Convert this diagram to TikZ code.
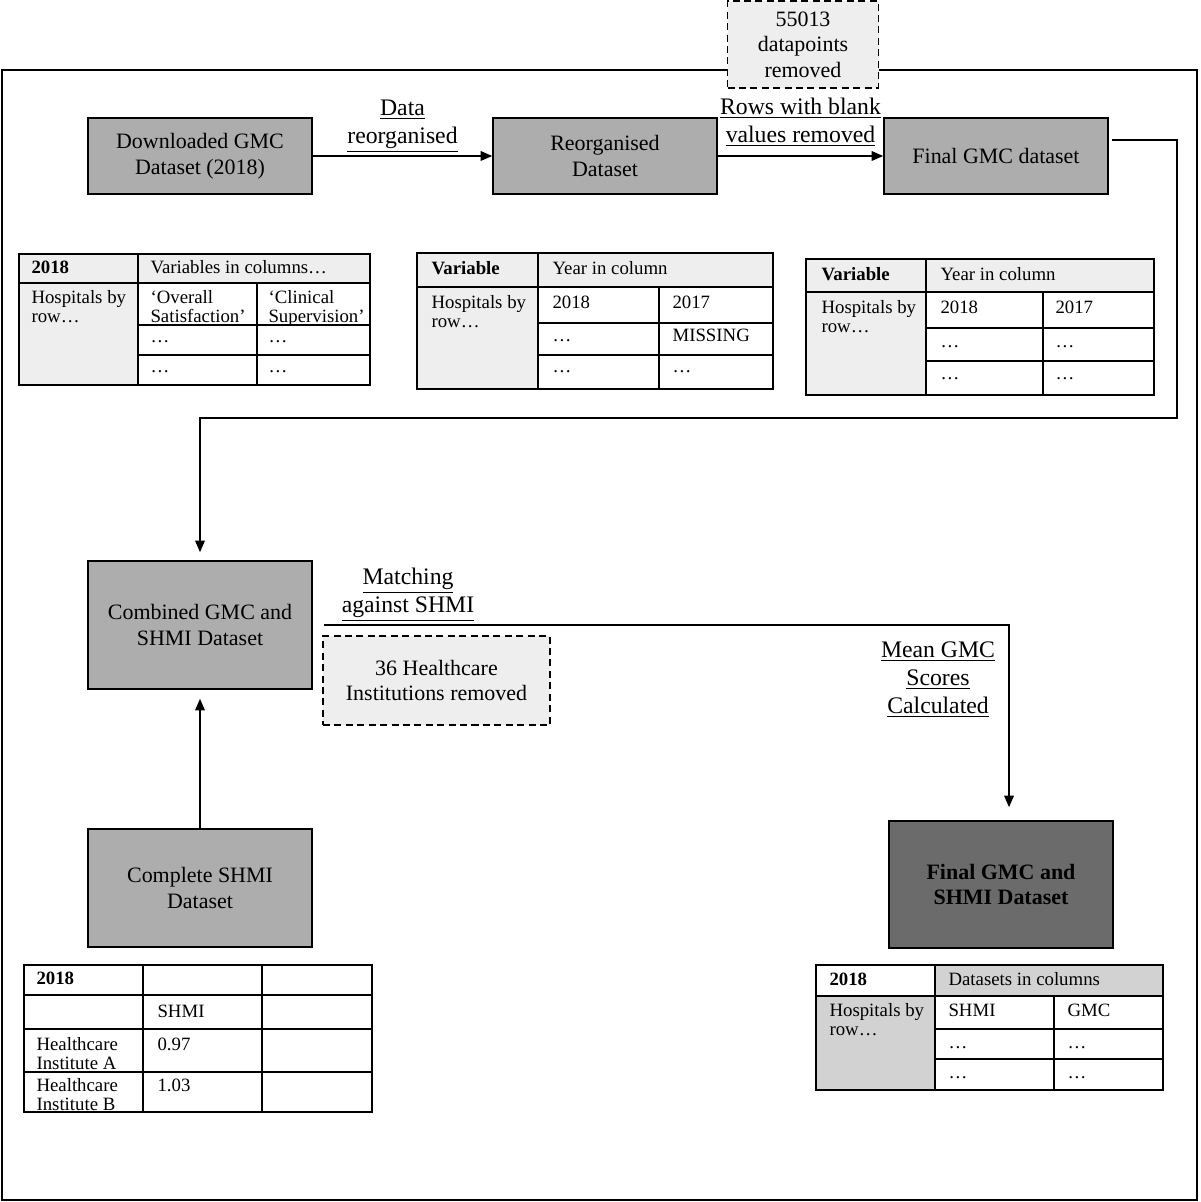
\documentclass[tikz,border=0pt]{standalone}
\usepackage{fontspec}
\setmainfont{Liberation Serif}
\usetikzlibrary{arrows.meta,positioning}
\definecolor{boxgray}{HTML}{ADADAD}
\definecolor{darkbox}{HTML}{6B6B6B}
\definecolor{pale}{HTML}{EEEEEE}
\definecolor{midgray}{HTML}{D2D2D2}
\newcommand\boxfont{\fontsize{12.5}{14.5}\selectfont}
\newcommand\cellfont{\fontsize{10.7}{10.5}\selectfont}

\begin{document}
\begin{tikzpicture}[x=0.02cm, y=-0.02cm, semithick, >={Triangle[length=6.5pt,width=5.5pt]},
  main/.style = {draw, line width=1pt, fill=boxgray, minimum width=4.48cm, minimum height=1.52cm, align=center, font=\boxfont},
  removed/.style = {draw, dash pattern=on 4pt off 2.5pt, line width=1pt, fill=pale, align=center, font=\boxfont},
  lbl/.style = {inner sep=0pt, align=center, font=\fontsize{13.5}{16}\selectfont},
  cell/.style = {anchor=north west, inner sep=0pt, align=left, font=\cellfont},
  grid/.style = {line width=0.9pt}]
\useasboundingbox (0,0) rectangle (1200,1202);
\draw[line width=1pt] (2,70) rectangle (1197,1200);

\node[main] (dl) at (200,156) {Downloaded GMC\\Dataset (2018)};
\node[main] (reorg) at (605,156) {Reorganised\\Dataset};
\node[main] (fgmc) at (996,156) {Final GMC dataset};
\node[removed, minimum width=3.02cm, minimum height=1.74cm] (gone) at (803,44.5) {55013\\datapoints\\removed};
\node[main, minimum height=2.56cm] (comb) at (200,625) {Combined GMC and\\SHMI Dataset};
\node[removed, minimum width=4.54cm, minimum height=1.78cm] (inst) at (436.5,680.5) {36 Healthcare\\Institutions removed};
\node[main, minimum height=2.36cm] (shmi) at (200,888) {Complete SHMI\\Dataset};
\node[main, fill=darkbox, minimum height=2.54cm, font=\boxfont\bfseries] (final) at (1001,884.5) {Final GMC and\\SHMI Dataset};
\node[lbl, anchor=south] (matchl) at (408,622) {\underline{Matching}\\\underline{against SHMI}};
\node[lbl, anchor=north] (meanl) at (938,641) {\underline{Mean GMC}\\\underline{Scores}\\\underline{Calculated}};
\coordinate (turn) at (1177,418);

\draw[->] (dl) -- node[lbl, above=2pt] (reorgl) {\underline{Data}\\\underline{reorganised}} (reorg);
\draw[->] (reorg) -- node[lbl, above=5pt] (blankl) {\underline{Rows with blank}\\\underline{values removed}} (fgmc);
\draw[->, shorten <=2pt, shorten >=0.16cm] ([yshift=0.32cm]fgmc.east) -| (turn) -| (comb.north);
\draw[->, shorten <=0.22cm, shorten >=0.26cm] (comb.east) -| ([xshift=0.16cm]final.north);
\draw[->, shorten >=0.18cm] (shmi) -- (comb);

% table: downloaded data
\fill[pale] (19,254) rectangle (370,283) (19,283) rectangle (138,385);
\draw[grid] (19,254) rectangle (370,385) (19,283) -- (370,283) (138,254) -- (138,385) (257,283) -- (257,385)
  (138,325) -- (370,325) (138,355) -- (370,355);
\node[cell] (a1) at (31,260) {\textbf{2018}};
\node[cell] (a2) at (150,260) {Variables in columns…};
\node[cell] (a3) at (31,290) {Hospitals by\\row…};
\node[cell] (a4) at (150,290) {‘Overall\\Satisfaction’};
\node[cell] (a5) at (268,290) {‘Clinical\\Supervision’};
\foreach \x in {150,268} \foreach \y in {343,373}
  \node[cell, anchor=base west] (a-\x-\y) at (\x,\y) {…};

% table: reorganised data
\fill[pale] (417,253) rectangle (773,287) (417,287) rectangle (538,389);
\draw[grid] (417,253) rectangle (773,389) (417,287) -- (773,287) (538,253) -- (538,389) (659,287) -- (659,389)
  (538,323) -- (773,323) (538,355) -- (773,355);
\node[cell] (b1) at (431,261) {\textbf{Variable}};
\node[cell] (b2) at (552,261) {Year in column};
\node[cell] (b3) at (431,295) {Hospitals by\\row…};
\node[cell] (b4) at (552,295) {2018};
\node[cell] (b5) at (672,295) {2017};
\node[cell] (b6) at (672,329) {MISSING};
\node[cell, anchor=base west] (b7) at (552,342) {…};
\node[cell, anchor=base west] (b8) at (552,373) {…};
\node[cell, anchor=base west] (b9) at (672,373) {…};

% table: final GMC data
\fill[pale] (806,259) rectangle (1154,292) (806,292) rectangle (926,395);
\draw[grid] (806,259) rectangle (1154,395) (806,292) -- (1154,292) (926,259) -- (926,395) (1043,292) -- (1043,395)
  (926,328) -- (1154,328) (926,361) -- (1154,361);
\node[cell] (c1) at (821,267) {\textbf{Variable}};
\node[cell] (c2) at (940,267) {Year in column};
\node[cell] (c3) at (821,300) {Hospitals by\\row…};
\node[cell] (c4) at (940,300) {2018};
\node[cell] (c5) at (1055,300) {2017};
\foreach \x in {940,1055} \foreach \y in {348,379}
  \node[cell, anchor=base west] (c-\x-\y) at (\x,\y) {…};

% table: SHMI
\draw[grid] (24,965) rectangle (372,1112) (143,965) -- (143,1112) (262,965) -- (262,1112)
  (24,995) -- (372,995) (24,1029) -- (372,1029) (24,1072) -- (372,1072);
\node[cell] (d1) at (36,971) {\textbf{2018}};
\node[cell] (d2) at (157,1005) {SHMI};
\node[cell] (d3) at (36,1037) {Healthcare\\Institute A};
\node[cell] (d4) at (157,1037) {0.97};
\node[cell] (d5) at (36,1078) {Healthcare\\Institute B};
\node[cell] (d6) at (157,1078) {1.03};

% table: final dataset
\fill[midgray] (935,965) rectangle (1163,996) (816,996) rectangle (935,1090);
\draw[grid] (816,965) rectangle (1163,1090) (816,996) -- (1163,996) (935,965) -- (935,1090) (1054,996) -- (1054,1090)
  (935,1029) -- (1163,1029) (935,1059) -- (1163,1059);
\node[cell] (e1) at (829,972) {\textbf{2018}};
\node[cell] (e2) at (948,972) {Datasets in columns};
\node[cell] (e3) at (829,1003) {Hospitals by\\row…};
\node[cell] (e4) at (948,1004) {SHMI};
\node[cell] (e5) at (1067,1004) {GMC};
\foreach \x in {948,1067} \foreach \y in {1048,1078}
  \node[cell, anchor=base west] (e-\x-\y) at (\x,\y) {…};
\end{tikzpicture}
\end{document}
